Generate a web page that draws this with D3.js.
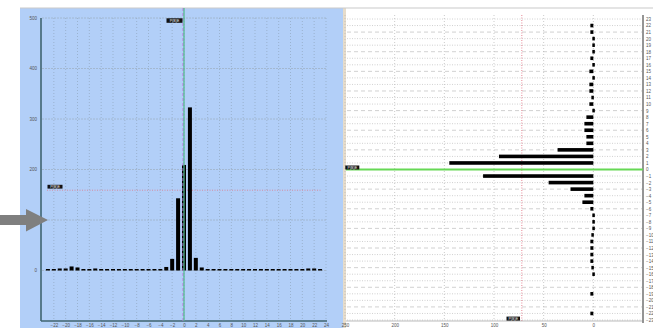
<!DOCTYPE html>
<html><head><meta charset="utf-8">
<script src="https://cdn.jsdelivr.net/npm/d3@7"></script>
<style>
html,body{margin:0;padding:0;background:#fff;overflow:hidden}
svg{display:block;font-family:"Liberation Sans",Arial,sans-serif}
</style></head>
<body><svg id="c" width="653" height="328"></svg>
<script>
// ---- Left histogram data ----
const leftCategories = [-23,-22,-21,-20,-19,-18,-17,-16,-15,-14,-13,-12,-11,-10,-9,-8,-7,-6,-5,-4,-3,-2,-1,0,1,2,3,4,5,6,7,8,9,10,11,12,13,14,15,16,17,18,19,20,21,22,23];
const leftValues = [2,2,4,4,8,6,2,2,4,0.5,2,0.5,0.5,0.5,0.5,0.5,0.5,0.5,0.5,3,7,23,143,209,323,25,6,1,1,1,1,1,1,0.5,0.5,0.5,2,0.5,2,0.5,2,0.5,0.5,0.5,4,4,0.5];
const leftXTicks = [-22,-20,-18,-16,-14,-12,-10,-8,-6,-4,-2,0,2,4,6,8,10,12,14,16,18,20,22,24];
const leftYTicks = [0,100,200,300,400,500];
const leftRefLine = 159;
const leftMarker = 0;

// ---- Right horizontal-bar data ----
const rightRows = [23,22,21,20,19,18,17,16,15,14,13,12,11,10,9,8,7,6,5,4,3,2,1,0,-1,-2,-3,-4,-5,-6,-7,-8,-9,-10,-11,-12,-13,-14,-15,-16,-17,-18,-19,-20,-21,-22,-23];
const rightValues = [0,3,3,1,1,1,3,1,4,1,4,4,2,4,1,7,9,9,7,7,36,95,145,0,111,45,23,9,11,3,1,1,1,2,3,3,3,3,2,1,0,0,3,0,0,3,0];
const rightXTicks = [250,200,150,100,50,0];
const rightRefLine = 72;
const rightMarkerRow = 0;

const svg = d3.select("#c");

// background / frame
svg.append("rect").attr("x",0).attr("y",0).attr("width",653).attr("height",328).attr("fill","#fff");
svg.append("rect").attr("x",20).attr("y",8).attr("width",323).attr("height",320).attr("fill","#b2cff8");
svg.append("rect").attr("x",343).attr("y",8).attr("width",3).attr("height",320).attr("fill","#e6dccb");
svg.append("line").attr("x1",20).attr("x2",653).attr("y1",8).attr("y2",8).attr("stroke","#c9c9c9").attr("stroke-width",1.2);

// ===== LEFT PANEL =====
const xL = d3.scaleLinear().domain([-24,24]).range([42,326]);
const yL = d3.scaleLinear().domain([0,500]).range([270.5,18]);
const gL = svg.append("g");

// vertical grid
gL.selectAll(".vg").data(leftXTicks).join("line")
  .attr("x1",d=>xL(d)).attr("x2",d=>xL(d)).attr("y1",18).attr("y2",321)
  .attr("stroke","#8fa6bf").attr("stroke-width",0.7).attr("stroke-dasharray","1,2");
// horizontal grid
gL.selectAll(".hg").data(leftYTicks).join("line")
  .attr("x1",42).attr("x2",326).attr("y1",d=>yL(d)).attr("y2",d=>yL(d))
  .attr("stroke","#9fb2c6").attr("stroke-width",0.8).attr("stroke-dasharray","2,1");

// y axis
const axL = d3.axisLeft(yL).tickValues(leftYTicks).tickSize(0).tickPadding(4);
const gAy = gL.append("g").attr("transform","translate(41,0)").call(axL);
gAy.select(".domain").remove();
gAy.selectAll("text").attr("font-size",4.5).attr("fill","#555");
gL.append("line").attr("x1",41).attr("x2",41).attr("y1",18).attr("y2",321).attr("stroke","#3f6470").attr("stroke-width",1.6);

// x axis
const axLx = d3.axisBottom(xL).tickValues(leftXTicks).tickSize(0).tickPadding(3);
const gAx = gL.append("g").attr("transform","translate(0,321)").call(axLx);
gAx.select(".domain").remove();
gAx.selectAll("text").attr("font-size",4.5).attr("fill","#555");
gL.append("line").attr("x1",41).attr("x2",327).attr("y1",321).attr("y2",321).attr("stroke","#3f6470").attr("stroke-width",1.6);

// red reference line
gL.append("line").attr("x1",47).attr("x2",322).attr("y1",yL(leftRefLine)).attr("y2",yL(leftRefLine))
  .attr("stroke","#e07a8a").attr("stroke-width",0.8).attr("stroke-dasharray","1,1.5");

// bars
const bwL = 4;
gL.selectAll(".bar").data(leftCategories.map((c,i)=>({c,v:leftValues[i]}))).join("rect")
  .attr("x",d=>xL(d.c)-bwL/2).attr("width",bwL)
  .attr("y",d=>Math.min(yL(d.v), yL(0)-1.5))
  .attr("height",d=>Math.max(yL(0)-yL(d.v),1.5))
  .attr("fill","#000");

// marker lines at 0
gL.append("line").attr("x1",xL(leftMarker)-1).attr("x2",xL(leftMarker)-1).attr("y1",8).attr("y2",321)
  .attr("stroke","#c070e0").attr("stroke-width",1).attr("stroke-dasharray","3,2");
gL.append("line").attr("x1",xL(leftMarker)).attr("x2",xL(leftMarker)).attr("y1",8).attr("y2",321)
  .attr("stroke","#4fb98a").attr("stroke-width",1.2);

// label boxes
function labelBox(g,x,y,w,h,t){
  g.append("rect").attr("x",x).attr("y",y).attr("width",w).attr("height",h).attr("fill","#111");
  g.append("text").attr("x",x+w/2).attr("y",y+h-0.8).attr("text-anchor","middle")
   .attr("font-size",3.6).attr("fill","#fff").text(t);
}
labelBox(gL,166.5,18.3,16,4.5,"P(B)E");
labelBox(gL,47.5,184.8,15,3.8,"P(B)E");

// ===== RIGHT PANEL =====
const xR = d3.scaleLinear().domain([250,-50]).range([345,643]);
const yR = d3.scaleLinear().domain([23,-23]).range([19,320]);
const gR = svg.append("g");

// horizontal row grid
gR.selectAll(".rg").data(rightRows).join("line")
  .attr("x1",347).attr("x2",642).attr("y1",d=>yR(d)).attr("y2",d=>yR(d))
  .attr("stroke","#bdbdbd").attr("stroke-width",0.7)
  .attr("stroke-dasharray",(d)=> (Math.abs(d)%3===0) ? "4,3" : "1,1.5");
// vertical grid
gR.selectAll(".rv").data(rightXTicks).join("line")
  .attr("x1",d=>xR(d)).attr("x2",d=>xR(d)).attr("y1",15).attr("y2",321)
  .attr("stroke","#b5b5b5").attr("stroke-width",0.7).attr("stroke-dasharray","1,2");

// red reference line
gR.append("line").attr("x1",xR(rightRefLine)).attr("x2",xR(rightRefLine)).attr("y1",15).attr("y2",321)
  .attr("stroke","#e06a7a").attr("stroke-width",0.8).attr("stroke-dasharray","1,1.5");

// x axis bottom
const axRx = d3.axisBottom(xR).tickValues(rightXTicks).tickSize(0).tickPadding(3);
const gRx = gR.append("g").attr("transform","translate(0,321)").call(axRx);
gRx.select(".domain").remove();
gRx.selectAll("text").attr("font-size",4.5).attr("fill","#555");
gR.append("line").attr("x1",346).attr("x2",643).attr("y1",321).attr("y2",321).attr("stroke","#aaa").attr("stroke-width",0.8);

// right axis
const axRy = d3.axisRight(yR).tickValues(rightRows).tickSize(0).tickPadding(3);
const gRy = gR.append("g").attr("transform","translate(643,0)").call(axRy);
gRy.select(".domain").remove();
gRy.selectAll("text").attr("font-size",4.5).attr("fill","#555");
gR.append("line").attr("x1",643).attr("x2",643).attr("y1",15).attr("y2",323).attr("stroke","#8a8a8a").attr("stroke-width",1.8);

// green marker row
gR.append("line").attr("x1",346).attr("x2",643).attr("y1",yR(rightMarkerRow)).attr("y2",yR(rightMarkerRow))
  .attr("stroke","#66d855").attr("stroke-width",2);

// bars
const bhR = 3.6;
gR.selectAll(".hb").data(rightRows.map((r,i)=>({r,v:rightValues[i]})).filter(d=>d.v>0)).join("rect")
  .attr("x",d=>xR(d.v)).attr("width",d=>Math.max(xR(0)-xR(d.v),2.5))
  .attr("y",d=>yR(d.r)-bhR/2).attr("height",bhR)
  .attr("fill","#000");

labelBox(gR,345.3,165.5,14,4,"P(B)E");
labelBox(gR,506.5,316.6,13.5,4,"P(B)E");

// arrow
svg.append("path")
  .attr("d",`M0,215 L26,215 L26,209 L48,220 L26,231.5 L26,225 L0,225 Z`)
  .attr("fill","#7f7f7f");
</script></body></html>
